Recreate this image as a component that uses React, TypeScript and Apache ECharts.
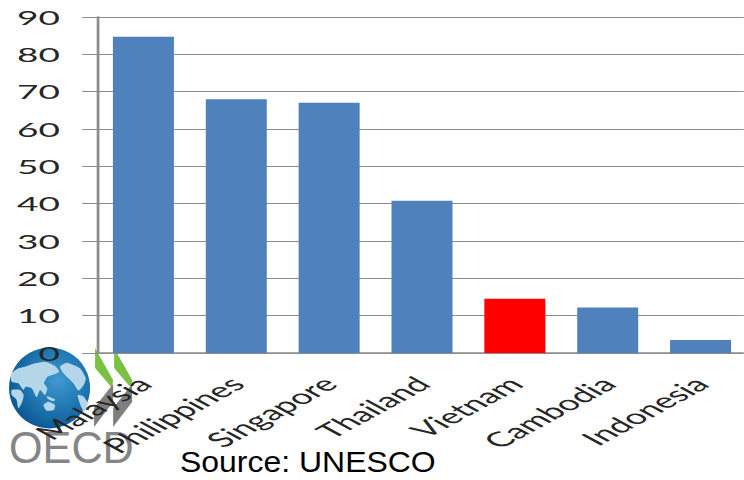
import React, { useEffect, useRef } from "react";
import * as echarts from "echarts";

const countries = ["Malaysia", "Philippines", "Singapore", "Thailand", "Vietnam", "Cambodia", "Indonesia"];
const rates = [84.7, 68, 67, 40.8, 14.5, 12.2, 3.5];
const highlighted = "Vietnam";
const sourceNote = "Source: UNESCO";
const logoWord = "OECD";

// The whole chart is laid out narrow and widened by this factor with CSS.
const WIDEN = 1.85;
const sx = (x: number) => x / WIDEN;

const BLUE = "#4f81bd";
const GRID = "#8c8c8c";

// Globe artwork outlines, on a 3:1 grid anchored at (5, 340).
const land = "#b4d6e8";
const continentOutlines: number[][][] = [
  [[18, 102], [40, 85], [60, 80], [90, 70], [120, 65], [150, 78], [162, 95], [142, 105], [127, 110], [117, 130], [127, 145], [120, 165], [105, 150], [95, 172], [80, 145], [62, 140], [55, 150], [40, 130], [20, 125]],
  [[165, 80], [185, 68], [205, 75], [225, 85], [242, 115], [236, 135], [220, 152], [205, 130], [190, 115], [175, 100]],
  [[20, 150], [45, 150], [56, 165], [50, 190], [40, 205], [34, 178], [20, 165]],
  [[115, 195], [130, 185], [150, 195], [146, 210], [125, 212]],
  [[218, 165], [236, 170], [248, 190], [238, 216], [226, 195]],
  [[125, 168], [150, 178], [146, 184], [128, 176]],
];
const toLogo = (outline: number[][]) => outline.map(([x, y]) => [5 + x / 3, 340 + y / 3]);

const chevron = (dx: number) => [
  { type: "polygon", shape: { points: [[95 + dx, 348], [113 + dx, 380], [112 + dx, 388], [95 + dx, 368]] }, style: { fill: "#7ac143" } },
  { type: "polygon", shape: { points: [[113 + dx, 384], [94 + dx, 408], [94 + dx, 427], [113 + dx, 402]] }, style: { fill: "#7f7f7f" } },
];

export default function App() {
  const ref = useRef<HTMLDivElement>(null);

  useEffect(() => {
    document.body.style.margin = "0";
    const chart = echarts.init(ref.current!, undefined, { renderer: "svg" });
    chart.setOption({
      animation: false,
      backgroundColor: "#ffffff",
      grid: { left: sx(97), width: sx(650), top: 17, bottom: 127, containLabel: false, outerBoundsMode: "none" },
      xAxis: {
        type: "category",
        data: countries,
        axisLine: { lineStyle: { color: GRID, width: 1.5 } },
        axisTick: { length: 7, lineStyle: { color: GRID, width: 1.5 } },
        axisLabel: {
          interval: 0,
          rotate: 45,
          margin: 27,
          color: "#262626",
          fontFamily: "Lato",
          fontSize: 20.5,
        },
      },
      yAxis: {
        type: "value",
        min: 0,
        max: 90,
        interval: 10,
        axisLine: { show: true, lineStyle: { color: GRID, width: 1.5 } },
        axisTick: { show: true, length: 8, lineStyle: { color: GRID, width: 1 } },
        splitLine: { lineStyle: { color: GRID, width: 1 } },
        axisLabel: { color: "#262626", fontFamily: "Lato", fontSize: 20, margin: 20 },
      },
      series: [
        {
          type: "bar",
          barWidth: sx(61),
          data: countries.map((name, i) => ({
            value: rates[i],
            itemStyle: { color: name === highlighted ? "#ff0000" : BLUE },
          })),
        },
      ],
      graphic: [
        {
          type: "group",
          scaleX: 1 / WIDEN,
          z: -1,
          silent: true,
          children: [
            {
              type: "circle",
              shape: { cx: 49.5, cy: 388, r: 40.5 },
              style: {
                fill: {
                  type: "radial",
                  x: 0.6,
                  y: 0.4,
                  r: 0.62,
                  colorStops: [
                    { offset: 0, color: "#3f9ad0" },
                    { offset: 0.7, color: "#1a6fab" },
                    { offset: 1, color: "#0d5a94" },
                  ],
                },
              },
            },
            ...continentOutlines.map((outline) => ({
              type: "polygon",
              shape: { points: toLogo(outline), smooth: 0.2 },
              style: { fill: land },
            })),
            ...chevron(0),
            ...chevron(19),
            {
              type: "text",
              x: 9,
              y: 425,
              scaleX: 0.96,
              style: { text: logoWord, fill: "#858585", font: "45px 'Liberation Sans'" },
            },
          ],
        },
        {
          type: "text",
          x: sx(180),
          y: 447,
          scaleX: 1.065 / WIDEN,
          z: 10,
          style: { text: sourceNote, fill: "#000000", font: "30px 'Liberation Sans'" },
        },
      ],
    });
    return () => chart.dispose();
  }, []);

  return (
    <div style={{ width: 744, height: 480, overflow: "hidden" }}>
      <div
        ref={ref}
        style={{
          width: 744 / WIDEN,
          height: 480,
          transform: `scaleX(${WIDEN})`,
          transformOrigin: "0 0",
        }}
      />
    </div>
  );
}
